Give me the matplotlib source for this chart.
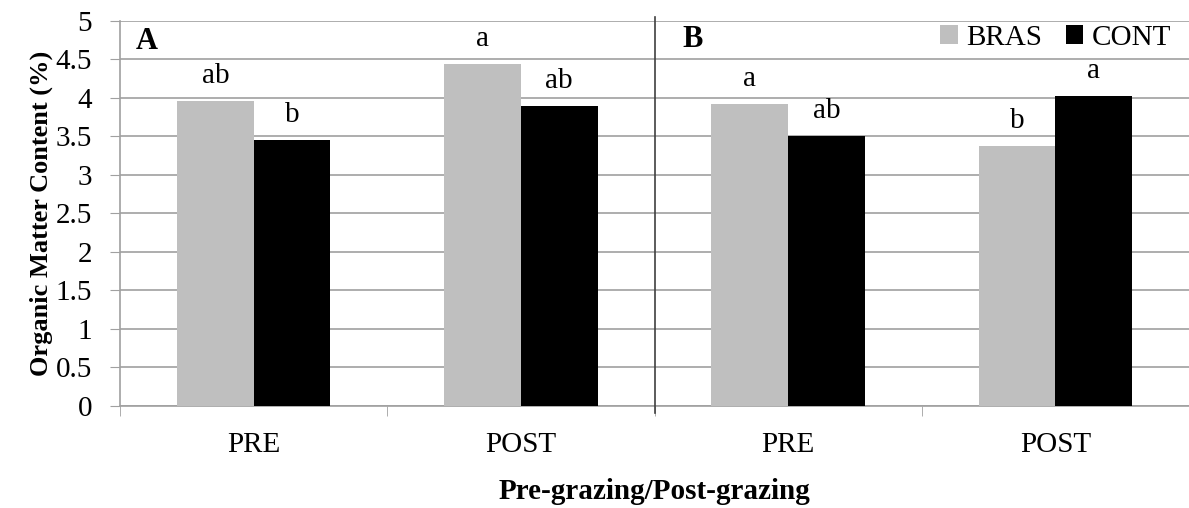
import matplotlib.pyplot as plt
import numpy as np

plt.rcParams['font.family'] = ['Liberation Serif', 'DejaVu Serif']

categories = ["PRE", "POST", "PRE", "POST"]
bras = [3.96, 4.44, 3.92, 3.37]
cont = [3.46, 3.90, 3.51, 4.03]
bras_letters = ["ab", "a", "a", "b"]
cont_letters = ["b", "ab", "ab", "a"]
panels = ["A", "B"]

fig = plt.figure(figsize=(11.89, 5.08), dpi=100)
ax = fig.add_axes([0.101, 0.2008, 0.899, 0.7579])

x = np.arange(len(categories))
w = 0.287
ax.bar(x - w / 2, bras, w, color="#bfbfbf", label="BRAS", zorder=3)
ax.bar(x + w / 2, cont, w, color="black", label="CONT", zorder=3)

for i in range(len(categories)):
    ax.annotate(bras_letters[i], (x[i] - w / 2, bras[i]), xytext=(0, 13),
                textcoords="offset points", ha="center", va="baseline", fontsize=21)
    ax.annotate(cont_letters[i], (x[i] + w / 2, cont[i]), xytext=(0, 13),
                textcoords="offset points", ha="center", va="baseline", fontsize=21)

ax.set_xlim(-0.5, 3.5)
ax.set_ylim(0, 5)
ax.set_yticks(np.arange(0, 5.01, 0.5))
ax.set_yticklabels(["0", "0.5", "1", "1.5", "2", "2.5", "3", "3.5", "4", "4.5", "5"])
ax.set_xticks(x)
ax.set_xticklabels(categories)
ax.set_xticks([-0.5, 0.5, 1.5, 2.5, 3.5], minor=True)
ax.tick_params(axis="x", which="major", length=0, pad=19, labelsize=21)
ax.tick_params(axis="x", which="minor", length=7, color="#a0a0a0", direction="out")
ax.tick_params(axis="y", length=7, color="#a0a0a0", labelsize=21, pad=13)

ax.grid(axis="y", color="#a0a0a0", linewidth=1.2, zorder=0)
for s in ["top", "right"]:
    ax.spines[s].set_visible(False)
ax.spines["left"].set_color("#a0a0a0")
ax.spines["bottom"].set_color("#a0a0a0")
ax.spines["left"].set_linewidth(1.2)
ax.spines["bottom"].set_linewidth(1.2)

# divider between panel A and B
ax.plot([1.5, 1.5], [-0.09, 5.05], color="#404040", linewidth=1.2, clip_on=False, zorder=4)

ax.text(0.015, 0.948, panels[0], transform=ax.transAxes, fontsize=22, fontweight="bold",
        va="center", ha="left")
ax.text(0.526, 0.952, panels[1], transform=ax.transAxes, fontsize=22, fontweight="bold",
        va="center", ha="left")

ax.set_ylabel("Organic Matter Content (%)", fontsize=19, fontweight="bold", labelpad=2)
ax.set_xlabel("Pre-grazing/Post-grazing", fontsize=21, fontweight="bold", labelpad=14)

ax.legend(loc="upper right", ncol=2, frameon=False, fontsize=21, handlelength=0.6,
          handleheight=0.6, handletextpad=0.3, columnspacing=0.8,
          bbox_to_anchor=(1.0, 1.035), borderaxespad=0.2)

fig.savefig("out.png", dpi=100)
